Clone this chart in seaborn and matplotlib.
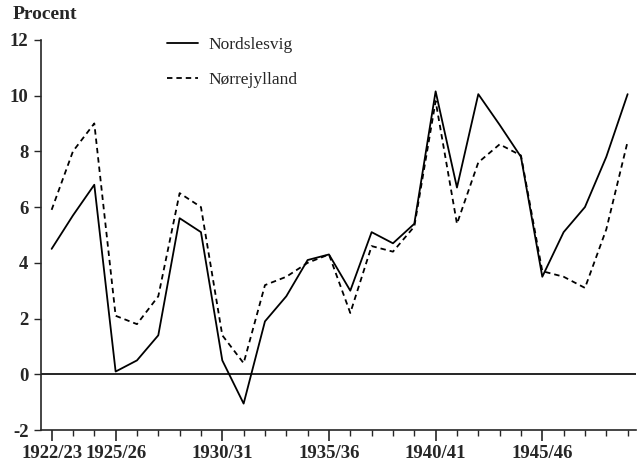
import matplotlib
matplotlib.use("Agg")
import matplotlib.pyplot as plt
import seaborn as sns
import numpy as np
import pandas as pd

# Data
aar = ["1922/23", "1923/24", "1924/25", "1925/26", "1926/27", "1927/28", "1928/29",
       "1929/30", "1930/31", "1931/32", "1932/33", "1933/34", "1934/35", "1935/36",
       "1936/37", "1937/38", "1938/39", "1939/40", "1940/41", "1941/42", "1942/43",
       "1943/44", "1944/45", "1945/46", "1946/47", "1947/48", "1948/49", "1949/50"]
nordslesvig = [4.5, 5.7, 6.8, 0.1, 0.5, 1.4, 5.6, 5.1, 0.5, -1.05, 1.9, 2.8, 4.1, 4.3,
               3.0, 5.1, 4.7, 5.4, 10.15, 6.7, 10.05, 8.95, 7.8, 3.5, 5.1, 6.0, 7.8, 10.05]
norrejylland = [5.9, 8.0, 9.0, 2.1, 1.8, 2.8, 6.5, 6.0, 1.4, 0.4, 3.2, 3.5, 4.0, 4.3,
                2.2, 4.6, 4.4, 5.3, 9.8, 5.4, 7.6, 8.25, 7.85, 3.7, 3.5, 3.1, 5.2, 8.35]
maerkede = ["1922/23", "1925/26", "1930/31", "1935/36", "1940/41", "1945/46"]

df = pd.DataFrame({"idx": np.arange(len(aar)), "aar": aar,
                   "Nordslesvig": nordslesvig, "Nørrejylland": norrejylland})

sns.set_style("ticks")
plt.rcParams["font.family"] = ["Liberation Serif", "DejaVu Serif"]

fig = plt.figure(figsize=(6.4, 4.68), dpi=100)
ax = fig.add_axes([0.064, 0.081, 0.93, 0.834])

sns.lineplot(data=df, x="idx", y="Nordslesvig", color="black", linewidth=1.3,
             ax=ax, label="Nordslesvig")
sns.lineplot(data=df, x="idx", y="Nørrejylland", color="black", linewidth=1.3,
             linestyle=(0, (3, 2.2)), ax=ax, label="Nørrejylland")

ax.axhline(0, color="black", linewidth=1.2, zorder=1)

ax.set_xlim(-0.5, 27.4)
ax.set_ylim(-2, 12)
ax.set_yticks(np.arange(-2, 13, 2))
ax.set_yticklabels([str(v) for v in range(-2, 13, 2)], fontsize=13.5, fontweight="bold")

major_idx = [aar.index(a) for a in maerkede]
ax.set_xticks(major_idx)
ax.set_xticklabels(maerkede, fontsize=13.5, fontweight="bold")
ax.set_xticks(df["idx"], minor=True)
ax.tick_params(axis="x", which="major", length=8, width=1.2, direction="out", pad=3)
ax.tick_params(axis="x", which="minor", length=4, width=1.0, direction="out")
ax.tick_params(axis="y", length=5, width=1.0, direction="out", pad=4)

ax.set_xlabel("")
ax.set_ylabel("")
for s in ["top", "right"]:
    ax.spines[s].set_visible(False)
ax.spines["left"].set_linewidth(1.2)
ax.spines["bottom"].set_linewidth(1.2)

fig.text(0.019, 0.968, "Procent", fontsize=14, fontweight="bold", va="center", ha="left")

leg = ax.legend(loc="upper left", bbox_to_anchor=(0.212, 1.008), frameon=False,
                fontsize=12.5, handlelength=1.8, handletextpad=0.6, labelspacing=1.1,
                borderpad=0, borderaxespad=0)

fig.savefig("out.png", dpi=100)
